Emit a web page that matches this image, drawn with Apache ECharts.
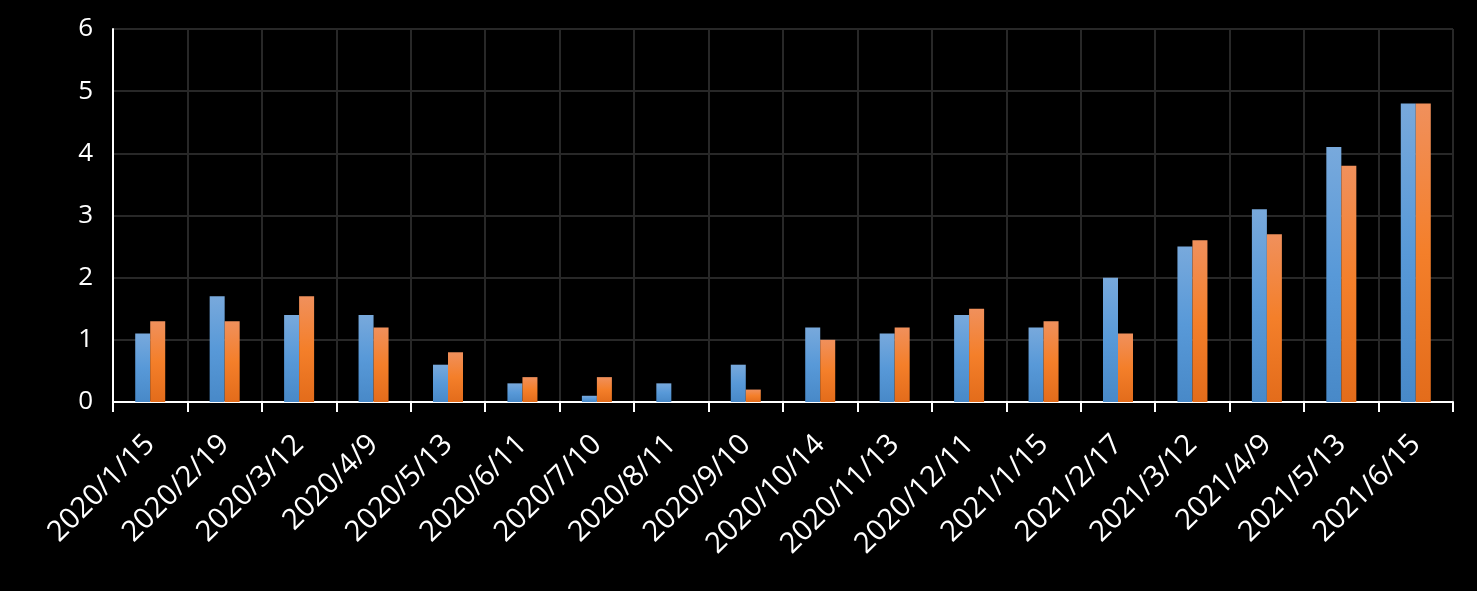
<!DOCTYPE html>
<html>
<head>
<meta charset="utf-8">
<script src="https://cdn.jsdelivr.net/npm/echarts@6/dist/echarts.min.js"></script>
<style>html,body{margin:0;padding:0;background:#000;}#c{width:1477px;height:591px;}</style>
</head>
<body>
<div id="c"></div>
<script>
var categories = ['2020/1/15','2020/2/19','2020/3/12','2020/4/9','2020/5/13','2020/6/11','2020/7/10','2020/8/11','2020/9/10','2020/10/14','2020/11/13','2020/12/11','2021/1/15','2021/2/17','2021/3/12','2021/4/9','2021/5/13','2021/6/15'];
var seriesA = [1.1,1.7,1.4,1.4,0.6,0.3,0.1,0.3,0.6,1.2,1.1,1.4,1.2,2.0,2.5,3.1,4.1,4.8];
var seriesB = [1.3,1.3,1.7,1.2,0.8,0.4,0.4,0,0.2,1.0,1.2,1.5,1.3,1.1,2.6,2.7,3.8,4.8];
var yTicks = [0,1,2,3,4,5,6];

var chart = echarts.init(document.getElementById('c'));
function grad(top, mid, bot){
  return new echarts.graphic.LinearGradient(0,0,0,1,[{offset:0,color:top},{offset:0.5,color:mid},{offset:1,color:bot}]);
}
chart.setOption({
  backgroundColor:'#000',
  animation:false,
  grid:{left:113,right:24,top:29,bottom:189,containLabel:false},
  xAxis:{
    type:'category',
    data:categories,
    axisLine:{lineStyle:{color:'#fff',width:2}},
    axisTick:{show:true,length:10,lineStyle:{color:'#fff',width:2}},
    splitLine:{show:true,lineStyle:{color:'#282828',width:2}},
    axisLabel:{rotate:45,color:'#fff',fontSize:29,fontFamily:'Open Sans',margin:38,interval:0}
  },
  yAxis:{
    type:'value',min:yTicks[0],max:yTicks[yTicks.length-1],interval:1,
    axisLine:{show:true,lineStyle:{color:'#fff',width:2}},
    axisTick:{show:false},
    splitLine:{show:true,lineStyle:{color:'#282828',width:2}},
    axisLabel:{color:'#fff',fontSize:26,fontFamily:'Open Sans',margin:20}
  },
  series:[
    {type:'bar',data:seriesA,barWidth:15,barGap:'0%',itemStyle:{color:grad('#78a9dc','#5899d8','#4889c8')}},
    {type:'bar',data:seriesB,barWidth:15,barGap:'0%',itemStyle:{color:grad('#f0905c','#f47f2a','#e36c1b')}}
  ]
});
</script>
</body>
</html>
